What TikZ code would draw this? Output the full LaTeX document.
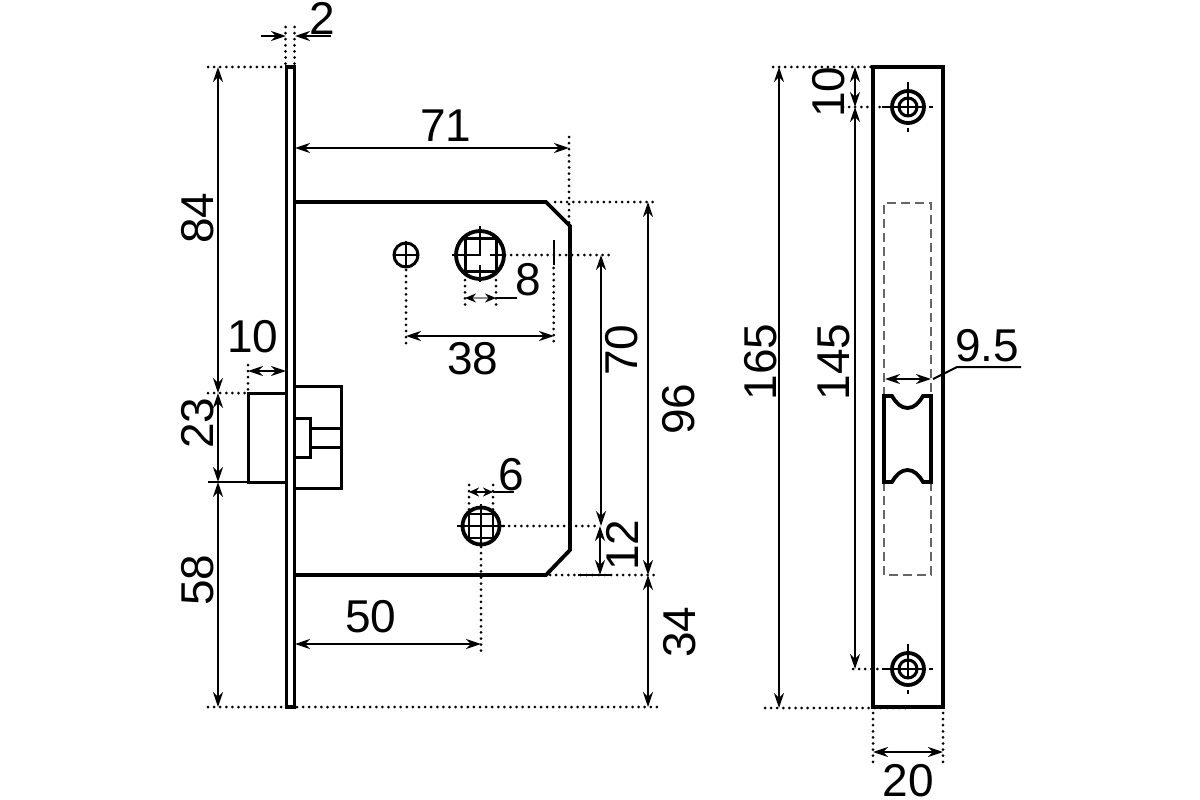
\documentclass[tikz,border=0pt]{standalone}
\usepackage{fontspec}
\setmainfont{Liberation Sans}
\usetikzlibrary{arrows.meta}
\tikzset{
  x=1pt,y=-1pt,
  thick line/.style={line width=3.8pt,line join=miter},
  plate line/.style={line width=3.2pt,line join=miter},
  med line/.style={line width=3pt},
  thin line/.style={line width=2.2pt},
  dotline/.style={line width=3pt,line cap=round,dash pattern=on 0pt off 6.1pt},
  dimline/.style={line width=2.2pt,{Stealth[length=15pt,width=10pt]}-{Stealth[length=15pt,width=10pt]}},
  dimend/.style={line width=2.2pt,-{Stealth[length=15pt,width=10pt]}},
  hiddenline/.style={line width=1.4pt,draw=black!60,dash pattern=on 9pt off 5pt},
  num/.style={inner sep=0pt,font=\fontsize{46}{46}\selectfont},
  numr/.style={num,rotate=90},
}
\begin{document}
\begin{tikzpicture}
\useasboundingbox (0,0) rectangle (1200,800);
\fill[white] (0,0) rectangle (1200,800);

% front plate and body
\draw[plate line] (286.3,67) rectangle (294.7,707);
\draw[thick line] (294.7,202) -- (546,202) -- (570,226) -- (570,550) -- (546,575) -- (294.7,575);
% bolt
\draw[med line] (285,393) -- (248,393) -- (248,482) -- (285,482);
\draw[med line] (296,386) -- (341,386) -- (341,488) -- (296,488);
\draw[med line] (296,418) -- (310,418) -- (310,457) -- (296,457);
\draw[med line] (310,428) -- (341,428) (310,447) -- (341,447);

% top holes
\draw[med line] (406,255) circle (12);
\draw[thin line] (393,255) -- (419,255) (406,241) -- (406,268);
\draw[thick line] (480,255) circle (24);
\draw[med line] (465,238) rectangle (496,271);
\draw[thin line] (452,255) -- (480,255) -- (480,226) (490,255) -- (505,255) (480,265) -- (480,282);
\draw[thin line] (553.7,240) -- (553.7,265);
% bottom hole
\draw[thick line] (481,526) circle (18.5);
\draw[thin line] (469,514) rectangle (493,538);
\draw[thin line] (457,526) -- (505,526) (481,504) -- (481,546);

% dotted extensions, body
\draw[dotline] (505,255) -- (610,255);
\draw[dotline] (406,270) -- (406,346);
\draw[dotline] (553.7,268) -- (553.7,346);
\draw[dotline] (465,274) -- (465,306);
\draw[dotline] (496,274) -- (496,306);
\draw[dotline] (469,485) -- (469,512);
\draw[dotline] (493,485) -- (493,512);
\draw[dotline] (503,526) -- (600,526);
\draw[dotline] (481,547) -- (481,655);
\draw[dotline] (569,137) -- (569,226);
\draw[dotline] (555,202) -- (658,202);
\draw[dotline] (550,575) -- (658,575);
\draw[thin line] (578,575) -- (611,575);
\draw[dotline] (208,67) -- (282,67);
\draw[dotline] (208,393) -- (248,393);
\draw[dotline] (248,365) -- (248,393);
\draw[thin line] (208,482) -- (248,482);
\draw[dotline] (208,707) -- (284,707);
\draw[dotline] (297,707) -- (658,707);
\draw[dotline] (285.5,27) -- (285.5,64);
\draw[dotline] (294.5,27) -- (294.5,64);

% dimensions, body
\draw[dimend] (261,36) -- (286,36);
\draw[dimend] (331,36) -- (295,36);
\draw[dimline] (295,148) -- (569,148);
\draw[dimline] (218,67) -- (218,393);
\draw[dimline] (218,393) -- (218,482);
\draw[dimline] (218,482) -- (218,707);
\draw[dimline] (248,371) -- (286,371);
\draw[dimline] (406,336) -- (554,336);
\draw[line width=2.2pt,draw=black!45,{Stealth[length=11pt,width=9pt,color=black]}-{Stealth[length=11pt,width=9pt,color=black]}] (465,298) -- (496,298);
\draw[line width=2.4pt] (496,298) -- (517,298);
\draw[dimline,{Stealth[length=10pt,width=9pt]}-{Stealth[length=10pt,width=9pt]}] (469,492) -- (493,492);
\draw[line width=2.4pt] (493,492) -- (514,492);
\draw[dimline] (601,255) -- (601,526);
\draw[dimline] (600,526) -- (600,575);
\draw[dimline] (648,202) -- (648,575);
\draw[dimline] (648,575) -- (648,707);
\draw[dimline] (295,644) -- (481,644);

% strike plate
\draw[thick line] (873,67) rectangle (943,707);
\draw[hiddenline] (884,396) -- (884,203) -- (931,203) -- (931,396);
\draw[hiddenline] (884,482) -- (884,575) -- (931,575) -- (931,482);
\draw[thick line] (892,396) -- (884,396) -- (884,482) -- (892,482)
  .. controls (896,475) and (901,470) .. (907.5,470)
  .. controls (914,470) and (919,475) .. (923,482) -- (931,482) -- (931,396) -- (923,396)
  .. controls (919,403) and (914,408) .. (907.5,408)
  .. controls (901,408) and (896,403) .. (892,396) -- cycle;
% screws
\foreach \cy in {107,669}{
  \draw[thick line] (908,\cy) circle (16);
  \draw[med line] (908,\cy) circle (9);
  \draw[thin line] (882,\cy) -- (924,\cy) (908,{\cy-25}) -- (908,{\cy+8});
  \draw[thin line] (929,\cy) -- (933,\cy) (908,{\cy+21}) -- (908,{\cy+25});
}
% dotted extensions, strike plate
\draw[dotline] (773,67) -- (900,67);
\draw[dotline] (765,708) -- (908,708);
\draw[dotline] (843,107) -- (880,107);
\draw[dotline] (853,669) -- (880,669);
\draw[dotline] (873,713) -- (873,763);
\draw[dotline] (943,713) -- (943,763);
% dimensions, strike plate
\draw[dimline] (779,67) -- (779,708);
\draw[dimline] (855,67) -- (855,107);
\draw[dimline] (855,107) -- (855,669);
\draw[dimline] (873,752) -- (943,752);
\draw[dimline] (885,379) -- (931,379);
\draw[line width=2pt] (933,379) -- (957,367) -- (1021,367);

% labels
\node[num] (l2) at (322,18) {2};
\node[num] (l71) at (446,126) {71};
\node[numr] (l84) at (198,218) {84};
\node[num] (l10a) at (253,337) {10};
\node[numr] (l23) at (198,423) {23};
\node[numr] (l58) at (198,580) {58};
\node[num] (l50) at (371,617) {50};
\node[num] (l38) at (473,359) {38};
\node[num] (l8) at (528,280) {8};
\node[numr] (l70) at (622,350) {70};
\node[numr] (l96) at (679,409) {96};
\node[num] (l6) at (511,475) {6};
\node[numr] (l12) at (622,545) {12};
\node[numr] (l34) at (680,632) {34};
\node[numr] (l165) at (761,362) {165};
\node[numr] (l145) at (834,362) {145};
\node[numr] (l10b) at (829,92) {10};
\node[num] (l95) at (987,346) {9.5};
\node[num] (l20) at (908,781) {20};
\end{tikzpicture}
\end{document}
